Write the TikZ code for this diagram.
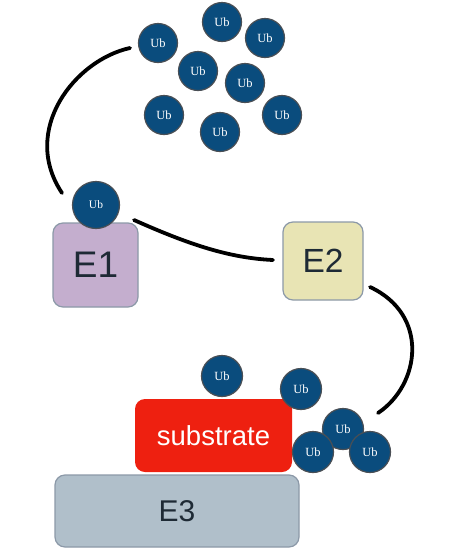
\documentclass[tikz,border=0pt]{standalone}
\usepackage{fontspec}
\setmainfont{Liberation Sans}
\newfontfamily\ubfont{Liberation Serif}
\definecolor{ubfill}{HTML}{0A4C7D}
\definecolor{ubline}{HTML}{4A4F55}
\definecolor{eone}{HTML}{C4AECE}
\definecolor{etwo}{HTML}{E8E4B4}
\definecolor{ethree}{HTML}{B0BFCA}
\definecolor{eline}{HTML}{8C99A8}
\definecolor{etext}{HTML}{1E2A35}
\definecolor{subred}{HTML}{EE2010}
\begin{document}
\begin{tikzpicture}[x=1pt,y=-1pt,
  ub/.style={circle,fill=ubfill,draw=ubline,line width=1.2pt,minimum size=39pt,inner sep=0pt,
    text=white,font=\ubfont\fontsize{12.5}{12.5}\selectfont},
  ebox/.style={rectangle,rounded corners=10pt,draw=eline,line width=1.2pt,inner sep=0pt,text=etext},
  link/.style={line width=3.8pt,line cap=round}]
\useasboundingbox (0,0) rectangle (450,550);
\fill[white] (0,0) rectangle (450,550);
% free Ub cloud
\node[ub] (u1) at (158,43) {Ub};
\node[ub] (u2) at (222,22) {Ub};
\node[ub] (u3) at (265,38) {Ub};
\node[ub] (u4) at (198,71) {Ub};
\node[ub] (u5) at (245,83) {Ub};
\node[ub] (u6) at (164,115) {Ub};
\node[ub] (u7) at (220,132) {Ub};
\node[ub] (u8) at (282,115) {Ub};
% enzymes
\node[ebox,fill=eone,minimum width=85pt,minimum height=84pt,font=\fontsize{37}{37}\selectfont] (E1) at (95.5,265) {E1};
\node[ub,minimum size=47pt,font=\ubfont\fontsize{11.5}{11.5}\selectfont] (ue) at (96,205) {Ub};
\node[ebox,fill=etwo,minimum width=80pt,minimum height=78pt,font=\fontsize{33.5}{33.5}\selectfont] (E2) at (323,261) {E2};
\node[ebox,fill=ethree,minimum width=244pt,minimum height=72pt,font=\fontsize{30}{30}\selectfont] (E3) at (177,511) {E3};
\node[rectangle,rounded corners=10pt,fill=subred,text=white,minimum width=157pt,minimum height=73pt,inner sep=0pt,font=\fontsize{27.5}{27.5}\selectfont] (sub) at (213.5,435.5) {substrate};
% Ub on substrate
\node[ub,minimum size=41pt] (b1) at (222,376) {Ub};
\node[ub,minimum size=41pt] (b2) at (301,389) {Ub};
\node[ub,minimum size=41pt] (b3) at (343,429) {Ub};
\node[ub,minimum size=41pt] (b4) at (313,452) {Ub};
\node[ub,minimum size=41pt] (b5) at (370,452) {Ub};
% connector ends
\coordinate (c1s) at (130,48);
\coordinate (c1e) at (62,193);
\coordinate (c2s) at (134,220);
\coordinate (c2e) at (273,260);
\coordinate (c3s) at (370,287);
\coordinate (c3e) at (378,413);
\draw[link] (c1s) .. controls (75,60) and (20,130) .. (c1e);
\draw[link] (c2s) .. controls (190,245) and (230,258) .. (c2e);
\draw[link] (c3s) .. controls (430,315) and (420,385) .. (c3e);
\end{tikzpicture}
\end{document}
